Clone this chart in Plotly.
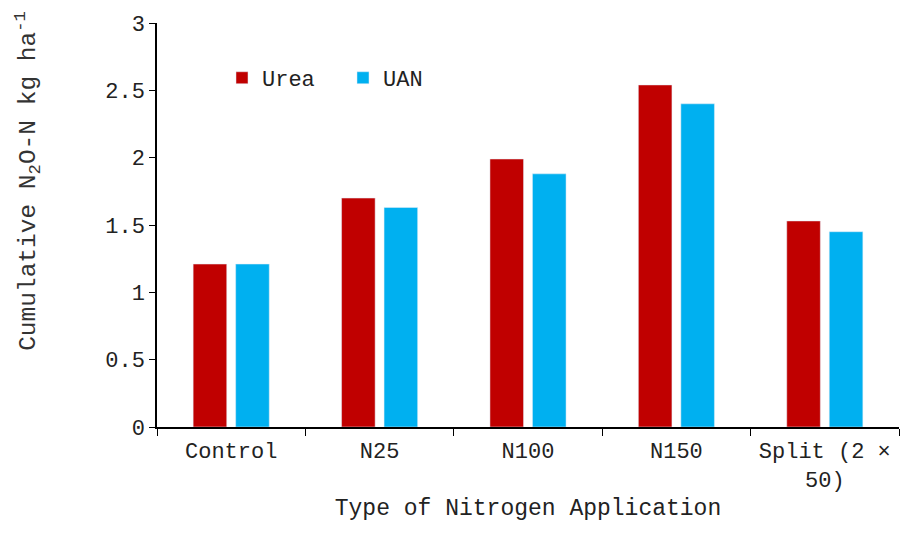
import plotly.graph_objects as go

categories = ["Control", "N25", "N100", "N150", "Split (2 ×<br>50)"]
urea = [1.21, 1.70, 1.99, 2.54, 1.53]
uan = [1.21, 1.63, 1.88, 2.40, 1.45]
y_ticks = [0, 0.5, 1, 1.5, 2, 2.5, 3]
y_tick_text = ["0", "0.5", "1", "1.5", "2", "2.5", "3"]

FONT = "Liberation Mono, Courier New, monospace"

fig = go.Figure()
fig.add_trace(go.Bar(name="Urea", x=categories, y=urea, marker_color="#C00000"))
fig.add_trace(go.Bar(name="UAN", x=categories, y=uan, marker_color="#00B0F0"))

fig.update_layout(
    width=916, height=550,
    margin=dict(l=157, r=17, t=23, b=123),
    paper_bgcolor="white", plot_bgcolor="white",
    font=dict(family=FONT, size=22, color="#222222"),
    barmode="group", bargap=0.427, bargroupgap=0.21,
    showlegend=True,
    legend=dict(orientation="h", x=0.0876, y=0.864, xanchor="left", yanchor="middle",
                font=dict(family=FONT, size=22, color="#222222"),
                bgcolor="rgba(0,0,0,0)", entrywidth=76),
    xaxis=dict(
        showline=True, linecolor="black", linewidth=1.5,
        ticks="outside", tickson="boundaries", ticklen=7, tickcolor="black", tickwidth=1,
        showgrid=False, zeroline=False, ticklabelstandoff=3,
        tickfont=dict(family=FONT, size=22, color="#222222"),
        title=dict(text="Type of Nitrogen Application", standoff=6,
                   font=dict(family=FONT, size=23, color="#222222")),
    ),
    yaxis=dict(
        range=[0, 3], tickvals=y_ticks, ticktext=y_tick_text,
        showline=True, linecolor="black", linewidth=1.5,
        ticks="outside", ticklen=6, tickcolor="black", tickwidth=1,
        showgrid=False, zeroline=False,
        tickfont=dict(family=FONT, size=22, color="#222222"),
    ),
    annotations=[dict(
        text="Cumulative N<sub>2</sub>O-N kg ha<sup>-1</sup>",
        textangle=-90, xref="paper", yref="paper",
        x=-0.174, y=0.609, xanchor="center", yanchor="middle", showarrow=False,
        font=dict(family=FONT, size=24.5, color="#333333"),
    )],
)

fig.write_html("out.html", config={"displayModeBar": False},
               post_script="document.body.style.margin='0';document.body.style.padding='0';")
